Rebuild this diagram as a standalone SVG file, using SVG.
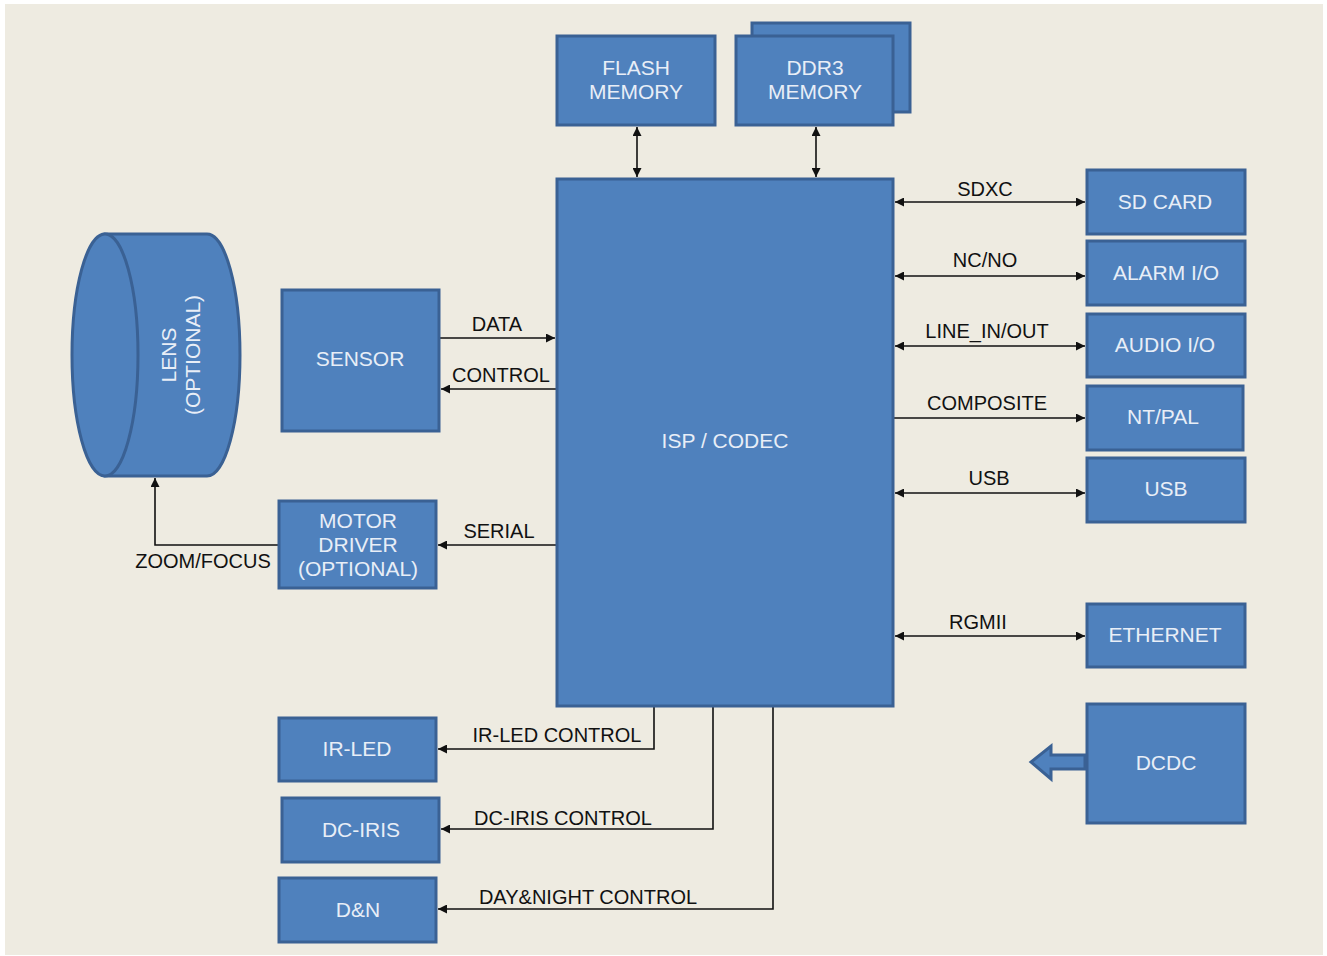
<svg xmlns="http://www.w3.org/2000/svg" width="1327" height="956" viewBox="0 0 1327 956">
<defs>
<style>
.b{fill:#4F81BD;stroke:#3A6194;stroke-width:3}
.t{font-family:"Liberation Sans",Arial,sans-serif;font-size:21px;fill:#E8EEF7;text-anchor:middle}
.l{font-family:"Liberation Sans",Arial,sans-serif;font-size:20px;fill:#111;text-anchor:middle}
.c{fill:none;stroke:#111;stroke-width:1.6}
</style>
<marker id="ah" viewBox="0 0 10 10" refX="10" refY="5" markerWidth="9" markerHeight="9" markerUnits="userSpaceOnUse" orient="auto-start-reverse"><path d="M0,0 L10,5 L0,10 Z" fill="#111"/></marker>
</defs>
<rect x="0" y="0" width="1327" height="956" fill="#FFFFFF"/>
<rect x="5" y="4" width="1318" height="951" fill="#EEEBE1"/>

<g id="connectors">
<path class="c" d="M637,127 V177" marker-start="url(#ah)" marker-end="url(#ah)"/>
<path class="c" d="M816,127 V177" marker-start="url(#ah)" marker-end="url(#ah)"/>
<path class="c" d="M895,202 H1085" marker-start="url(#ah)" marker-end="url(#ah)"/>
<path class="c" d="M895,276 H1085" marker-start="url(#ah)" marker-end="url(#ah)"/>
<path class="c" d="M895,346 H1085" marker-start="url(#ah)" marker-end="url(#ah)"/>
<path class="c" d="M893,418 H1085" marker-end="url(#ah)"/>
<path class="c" d="M895,493 H1085" marker-start="url(#ah)" marker-end="url(#ah)"/>
<path class="c" d="M895,636 H1085" marker-start="url(#ah)" marker-end="url(#ah)"/>
<path class="c" d="M440,338 H555" marker-end="url(#ah)"/>
<path class="c" d="M557,389 H441" marker-end="url(#ah)"/>
<path class="c" d="M557,545 H438" marker-end="url(#ah)"/>
<path class="c" d="M279,545 H155 V478" marker-end="url(#ah)"/>
<path class="c" d="M654,707 V749 H438" marker-end="url(#ah)"/>
<path class="c" d="M713,707 V829 H441" marker-end="url(#ah)"/>
<path class="c" d="M773,707 V909 H438" marker-end="url(#ah)"/>
<text class="l" x="985" y="196">SDXC</text>
<text class="l" x="985" y="267">NC/NO</text>
<text class="l" x="987" y="338">LINE_IN/OUT</text>
<text class="l" x="987" y="410">COMPOSITE</text>
<text class="l" x="989" y="485">USB</text>
<text class="l" x="978" y="629">RGMII</text>
<text class="l" x="497" y="331">DATA</text>
<text class="l" x="501" y="382">CONTROL</text>
<text class="l" x="499" y="538">SERIAL</text>
<text class="l" x="203" y="568">ZOOM/FOCUS</text>
<text class="l" x="557" y="742">IR-LED CONTROL</text>
<text class="l" x="563" y="825">DC-IRIS CONTROL</text>
<text class="l" x="588" y="904">DAY&amp;NIGHT CONTROL</text>
</g>

<g id="flash"><rect class="b" x="557" y="36" width="158" height="89"/><text class="t" x="636" y="75">FLASH</text><text class="t" x="636" y="99">MEMORY</text></g>
<g id="ddr3"><rect class="b" x="752" y="23" width="158" height="89"/><rect class="b" x="736" y="36" width="157" height="89"/><text class="t" x="815" y="75">DDR3</text><text class="t" x="815" y="99">MEMORY</text></g>
<g id="isp"><rect class="b" x="557" y="179" width="336" height="527"/><text class="t" x="725" y="448">ISP / CODEC</text></g>
<g id="sdcard"><rect class="b" x="1087" y="170" width="158" height="64"/><text class="t" x="1165" y="209">SD CARD</text></g>
<g id="alarm"><rect class="b" x="1087" y="241" width="158" height="64"/><text class="t" x="1166" y="280">ALARM I/O</text></g>
<g id="audio"><rect class="b" x="1087" y="314" width="158" height="63"/><text class="t" x="1165" y="352">AUDIO I/O</text></g>
<g id="ntpal"><rect class="b" x="1087" y="386" width="156" height="64"/><text class="t" x="1163" y="424">NT/PAL</text></g>
<g id="usb"><rect class="b" x="1087" y="458" width="158" height="64"/><text class="t" x="1166" y="496">USB</text></g>
<g id="ethernet"><rect class="b" x="1087" y="604" width="158" height="63"/><text class="t" x="1165" y="642">ETHERNET</text></g>
<g id="dcdc"><rect class="b" x="1087" y="704" width="158" height="119"/><text class="t" x="1166" y="770">DCDC</text><path class="b" d="M1085,755 H1051 V746 L1031,762 L1051,779 V769 H1085 Z"/></g>
<g id="sensor"><rect class="b" x="282" y="290" width="157" height="141"/><text class="t" x="360" y="366">SENSOR</text></g>
<g id="motor"><rect class="b" x="279" y="501" width="157" height="87"/><text class="t" x="358" y="528">MOTOR</text><text class="t" x="358" y="552">DRIVER</text><text class="t" x="358" y="576">(OPTIONAL)</text></g>
<g id="lens">
<path class="b" d="M105,234 H207 A33,121 0 0 1 207,476 H105 Z"/>
<ellipse class="b" cx="105" cy="355" rx="33" ry="121"/>
<text class="t" transform="translate(176,355) rotate(-90)" x="0" y="0">LENS</text>
<text class="t" transform="translate(200,355) rotate(-90)" x="0" y="0">(OPTIONAL)</text>
</g>
<g id="irled"><rect class="b" x="279" y="718" width="157" height="63"/><text class="t" x="357" y="756">IR-LED</text></g>
<g id="dciris"><rect class="b" x="282" y="798" width="157" height="64"/><text class="t" x="361" y="837">DC-IRIS</text></g>
<g id="dn"><rect class="b" x="279" y="878" width="157" height="64"/><text class="t" x="358" y="917">D&amp;N</text></g>
</svg>
